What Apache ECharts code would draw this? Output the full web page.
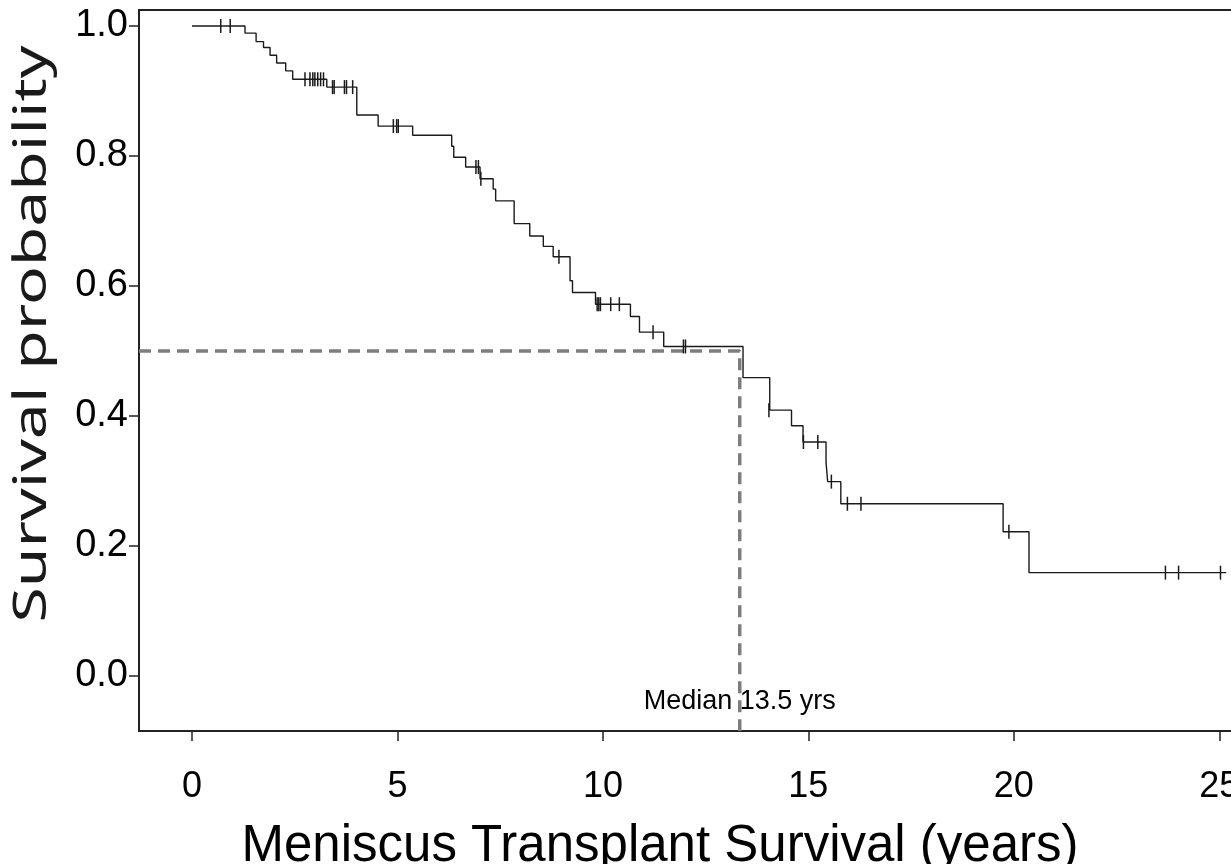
<!DOCTYPE html>
<html>
<head>
<meta charset="utf-8">
<style>
  html, body { margin: 0; padding: 0; background: #fff; }
  #chart { width: 1231px; height: 864px; }
</style>
<script src="https://cdn.jsdelivr.net/npm/echarts@6/dist/echarts.min.js"></script>
</head>
<body>
<div id="chart"></div>
<script>
// step points of the Kaplan-Meier curve: time (years) and survival after the drop
const eventTimes = [0, 1.29, 1.56, 1.74, 1.90, 2.06, 2.28, 2.45, 3.28, 4.01, 4.53, 5.37, 6.32, 6.37, 6.66,
  7.01, 7.33, 7.39, 7.84, 8.22, 8.55, 8.79, 9.20, 9.26, 9.82, 10.67, 10.89, 11.48, 13.41, 14.06, 14.59,
  14.87, 15.43, 15.47, 15.79, 19.74, 20.37, 25.17]
const survival = [1.0, 0.989, 0.976, 0.967, 0.955, 0.943, 0.931, 0.918, 0.906, 0.863, 0.846, 0.832, 0.815, 0.798, 0.783,
  0.765, 0.749, 0.731, 0.696, 0.677, 0.661, 0.645, 0.608, 0.590, 0.572, 0.553, 0.529, 0.507, 0.459, 0.409, 0.385,
  0.360, 0.329, 0.299, 0.265, 0.222, 0.159, 0.159]

// censored observations
const censorTimes = [0.70, 0.93, 2.75, 2.87, 2.94, 2.99, 3.06, 3.13, 3.20, 3.42, 3.46, 3.71, 3.76, 3.91,
  4.90, 4.98, 5.02, 6.91, 6.97, 7.03, 8.93, 9.86, 9.90, 9.94, 10.19, 10.40, 11.22, 11.96, 12.01,
  14.04, 14.88, 15.23, 15.56, 15.95, 16.28, 19.88, 23.69, 24.01, 25.03]
const censorSurv = [1.0, 1.0, 0.918, 0.918, 0.918, 0.918, 0.918, 0.918, 0.918, 0.906, 0.906, 0.906, 0.906, 0.906,
  0.846, 0.846, 0.846, 0.783, 0.783, 0.765, 0.645, 0.572, 0.572, 0.572, 0.572, 0.572, 0.529, 0.507, 0.507,
  0.409, 0.360, 0.360, 0.299, 0.265, 0.265, 0.222, 0.159, 0.159, 0.159]

const xTicks = [0, 5, 10, 15, 20, 25]
const yTicks = [0, 0.2, 0.4, 0.6, 0.8, 1.0]
const medianTime = 13.33
const medianSurv = 0.5
const medianText = 'Median 13.5 yrs'

const xMin = -1.29, xMax = 26.6
const yMin = -0.0846, yMax = 1.0246

const curve = eventTimes.map((t, i) => [t, survival[i]])
const censors = censorTimes.map((t, i) => [t, censorSurv[i]])
const medianPath = [[xMin, medianSurv], [medianTime, medianSurv], [medianTime, yMin]]

// stretch the y title to the length it has in the figure
const yTitle = 'Survival probability'
const yTitleFont = '45px "Noto Sans"'
const ctx = document.createElement('canvas').getContext('2d')
ctx.font = yTitleFont
const yTitleScale = 577 / ctx.measureText(yTitle).width

const chart = echarts.init(document.getElementById('chart'))
chart.setOption({
  animation: false,
  backgroundColor: '#fff',
  grid: {
    left: 139,
    top: 10,
    right: -54,
    bottom: 133,
    show: true,
    borderColor: '#222',
    borderWidth: 1.8,
    outerBoundsMode: 'none'
  },
  xAxis: {
    type: 'value',
    min: xMin,
    max: xMax,
    name: 'Meniscus Transplant Survival (years)',
    nameLocation: 'middle',
    nameGap: 90,
    nameTextStyle: { fontFamily: 'Liberation Sans', fontSize: 51, color: '#000', padding: [0, 104, 0, 0] },
    axisLine: { show: true, onZero: false, lineStyle: { color: '#222', width: 1.8 } },
    axisTick: { show: true, customValues: xTicks, length: 10, lineStyle: { color: '#222', width: 1.5 } },
    axisLabel: { customValues: xTicks, fontFamily: 'Liberation Sans', fontSize: 36, color: '#000', margin: 38 },
    splitLine: { show: false }
  },
  yAxis: {
    type: 'value',
    min: yMin,
    max: yMax,
    axisLine: { show: true, onZero: false, lineStyle: { color: '#222', width: 1.8 } },
    axisTick: { show: true, customValues: yTicks, length: 10, lineStyle: { color: '#222', width: 1.5 } },
    axisLabel: {
      customValues: yTicks,
      fontFamily: 'Liberation Sans',
      fontSize: 38,
      color: '#000',
      margin: 11,
      formatter: v => v.toFixed(1)
    },
    splitLine: { show: false }
  },
  graphic: [{
    type: 'text',
    x: 33,
    y: 334,
    rotation: Math.PI / 2,
    scaleX: yTitleScale,
    style: {
      text: yTitle,
      font: yTitleFont,
      fill: '#1a1a1a',
      textAlign: 'center',
      textVerticalAlign: 'middle'
    }
  }],
  series: [
    {
      type: 'line',
      data: medianPath,
      symbol: 'none',
      lineStyle: { color: '#7d7d7d', width: 3.5, type: [12, 7] },
      z: 1
    },
    {
      type: 'line',
      data: curve,
      step: 'end',
      symbol: 'none',
      lineStyle: { color: '#1a1a1a', width: 1.4 },
      z: 3
    },
    {
      type: 'scatter',
      data: censors,
      symbol: 'rect',
      symbolSize: [1.5, 14],
      itemStyle: { color: '#1a1a1a', opacity: 1 },
      z: 4
    },
    {
      type: 'scatter',
      data: [[medianTime, -0.04]],
      symbolSize: 0,
      itemStyle: { opacity: 1 },
      label: {
        show: true,
        position: 'inside',
        formatter: medianText,
        fontFamily: 'Liberation Sans',
        fontSize: 27,
        color: '#000',
        opacity: 1,
        textBorderWidth: 0
      },
      z: 5
    }
  ]
})
</script>
</body>
</html>
